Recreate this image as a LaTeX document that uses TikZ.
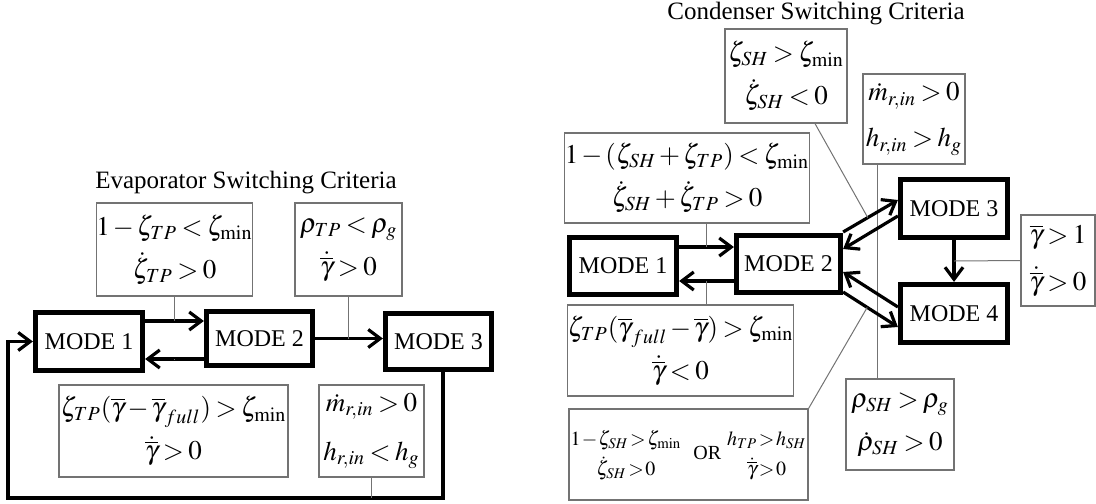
\documentclass[tikz,border=0pt]{standalone}
\usepackage{amsmath}
\usepackage{mathptmx}
\usepackage[no-math]{fontspec}
\setmainfont{Liberation Serif}
\usetikzlibrary{arrows.meta,positioning,calc}
\newcommand\tightmath{\thickmuskip=3mu\relax\medmuskip=2mu\relax}
\newcommand\tightermath{\thickmuskip=1.5mu\relax\medmuskip=1mu\relax\renewcommand\arraystretch{1.15}}

\begin{document}
\begin{tikzpicture}[
  x=0.5pt, y=-0.5pt,
  modebox/.style={draw, line width=2.6pt, inner sep=0pt, font={\fontsize{12}{14}\selectfont}},
  critbox/.style={draw=black!55, line width=0.6pt, inner sep=0pt, align=center,
    font={\fontsize{13.5}{21.5}\selectfont\tightmath}},
  smallcrit/.style={critbox, font={\fontsize{10}{13}\selectfont\tightermath}},
  heading/.style={font={\fontsize{12.5}{14}\selectfont}},
  flow/.style={line width=1.6pt, -{Straight Barb[length=6pt, width=9pt]}},
  tie/.style={draw=black!55, line width=0.5pt}]
\useasboundingbox (0,0) rectangle (1096,503);

\node[heading] (evtitle) at (246,183) {Evaporator Switching Criteria};
\node[modebox, minimum width=53.5pt, minimum height=29pt] (m1) at (89,341.5) {MODE 1};
\node[modebox, minimum width=53pt, minimum height=27pt] (m2) at (259.5,338.5) {MODE 2};
\node[modebox, minimum width=53pt, minimum height=28pt] (m3) at (438.5,341.5) {MODE 3};
\node[critbox, minimum width=77.5pt, minimum height=46.5pt] (tA) at (174.5,249.5)
  {$1-\zeta_{TP}<\zeta_{\min}$\\ $\dot{\zeta}_{TP}>0$};
\node[critbox, minimum width=53.5pt, minimum height=46.5pt] (tB) at (348.5,249.5)
  {$\rho_{TP}<\rho_{g}$\\ $\dot{\overline{\gamma}}>0$};
\node[critbox, minimum width=114.5pt, minimum height=46pt] (bA) at (173.5,431)
  {$\zeta_{TP}(\overline{\gamma}-\overline{\gamma}_{full})>\zeta_{\min}$\\ $\dot{\overline{\gamma}}>0$};
\node[critbox, minimum width=52.5pt, minimum height=46pt] (bB) at (371.5,431)
  {$\dot{m}_{r,in}>0$\\[3pt] $h_{r,in}<h_{g}$};
\coordinate (loop) at (8,498);

\draw[flow] ([yshift=10.25pt]m1.east) -- coordinate (up12) ([yshift=10.25pt]m1.east -| m2.west);
\draw[flow] ([yshift=-10.25pt]m2.west) -- coordinate (dn21) ([yshift=-10.25pt]m2.west -| m1.east);
\draw[flow] (m2.east) -- coordinate (ev23) (m2.east -| m3.west);
\draw[flow] ([xshift=2.25pt]m3.south) |- (loop) |- (m1.west);
\draw[tie] (tA.south) -- (tA.south |- up12);
\draw[tie] (dn21) -- (bA.north |- dn21);
\draw[tie] (tB.south) -- (tB.south |- ev23);
\draw[tie] (bB.south) -- (bB.south |- loop);

\node[heading] (cotitle) at (816,14) {Condenser Switching Criteria};
\node[modebox, minimum width=53.5pt, minimum height=28.5pt] (n1) at (623,266) {MODE 1};
\node[modebox, minimum width=52pt, minimum height=28.5pt] (n2) at (788.5,264) {MODE 2};
\node[modebox, minimum width=53.5pt, minimum height=29pt] (n3) at (954,208.5) {MODE 3};
\node[modebox, minimum width=53.5pt, minimum height=29pt] (n4) at (954,313.5) {MODE 4};
\node[critbox, minimum width=61pt, minimum height=47pt] (cA) at (786,76)
  {$\zeta_{SH}>\zeta_{\min}$\\ $\dot{\zeta}_{SH}<0$};
\node[critbox, minimum width=51pt, minimum height=45pt] (cB) at (914,119)
  {$\dot{m}_{r,in}>0$\\[1.5pt] $h_{r,in}>h_{g}$};
\node[critbox, minimum width=118pt, minimum height=45pt] (cC) at (687,178)
  {$1-(\zeta_{SH}+\zeta_{TP})<\zeta_{\min}$\\ $\dot{\zeta}_{SH}+\dot{\zeta}_{TP}>0$};
\node[critbox, minimum width=37pt, minimum height=45.5pt] (cD) at (1058,260.5)
  {$\overline{\gamma}>1$\\[2pt] $\dot{\overline{\gamma}}>0$};
\node[critbox, minimum width=112.5pt, minimum height=45.5pt] (cE) at (680.5,350.5)
  {$\zeta_{TP}(\overline{\gamma}_{full}-\overline{\gamma})>\zeta_{\min}$\\ $\dot{\overline{\gamma}}<0$};
\node[smallcrit, minimum width=119.5pt, minimum height=45.5pt] (cF) at (688.5,454.5)
  {$\begin{array}{@{}c@{}}1-\zeta_{SH}>\zeta_{\min}\\ \dot{\zeta}_{SH}>0\end{array}$\hspace{6pt}OR\hspace{3pt}%
   $\begin{array}{@{}c@{}}h_{TP}>h_{SH}\\ \dot{\overline{\gamma}}>0\end{array}$};
\node[critbox, minimum width=54pt, minimum height=45.5pt] (cG) at (900,424.5)
  {$\rho_{SH}>\rho_{g}$\\ $\dot{\rho}_{SH}>0$};

\draw[tie] ([xshift=-18.5pt]cB.south) -- ([xshift=-18.5pt]cB.south |- cG.north);
\draw[flow] ([yshift=9.5pt]n1.east) -- coordinate (up12c) ([yshift=9.5pt]n1.east -| n2.west);
\draw[flow] ([yshift=-8.5pt]n2.west) -- coordinate (dn21c) ([yshift=-8.5pt]n2.west -| n1.east);
\draw[flow] ([yshift=16pt]n2.east) -- coordinate[pos=0.45] (p23) ([yshift=4.25pt]n3.west);
\draw[flow] ([yshift=-3.75pt]n3.west) -- ([yshift=7.5pt]n2.east);
\draw[flow] ([yshift=3.25pt]n4.west) -- ([yshift=-4pt]n2.east);
\draw[flow] ([yshift=-14pt]n2.east) -- coordinate[pos=0.44] (p24) ([yshift=-6.75pt]n4.west);
\draw[flow] (n3.south) -- coordinate (p34) (n4.north);
\draw[tie] (cC.south -| up12c) -- (up12c);
\draw[tie] (dn21c) -- (cE.north -| dn21c);
\draw[tie] ([xshift=14.5pt]cA.south) -- (p23);
\draw[tie] (cF.north east) -- (p24);
\draw[tie] (cD.west) -- (p34);
\end{tikzpicture}
\end{document}
